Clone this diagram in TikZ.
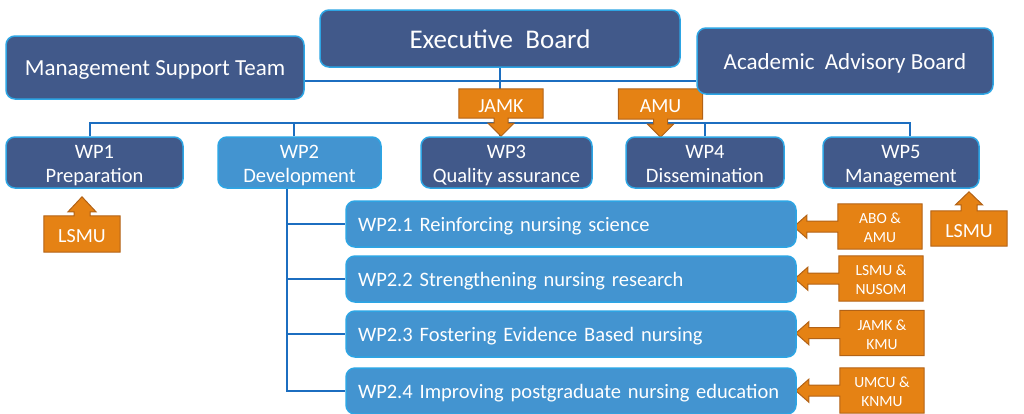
\documentclass[tikz,border=0pt]{standalone}
\usepackage{fontspec}
\setmainfont{Carlito}
\usetikzlibrary{backgrounds}

\definecolor{boarddark}{RGB}{65,89,138}
\definecolor{boardlight}{RGB}{67,148,208}
\definecolor{boxedge}{RGB}{45,165,228}
\definecolor{linkblue}{RGB}{28,110,192}
\definecolor{tagfill}{RGB}{229,130,20}
\definecolor{tagedge}{RGB}{178,98,22}

\tikzset{
    board/.style={draw=boxedge, line width=1.5pt, fill=boarddark, rounded corners=9pt,
	text=white, align=center, inner sep=0pt},
    topboard/.style={board, text height=17pt, text depth=0.5pt},
    wpbox/.style={board, minimum height=51pt, text height=45pt, text depth=5pt,
	font=\fontsize{20.5}{24}\selectfont},
    subwp/.style={board, fill=boardlight, minimum height=46pt, text width=426pt,
	align=left, inner xsep=12pt, inner ysep=0pt, text height=19pt, text depth=4pt,
	font=\fontsize{20.5}{24}\selectfont},
    tagbox/.style={text=white, align=center, inner sep=0pt, minimum width=84pt,
	text height=17pt, text depth=0pt, font=\fontsize{20}{24}\selectfont},
    partner/.style={text=white, align=center, inner sep=0pt, minimum width=84pt,
	minimum height=45pt, text height=38pt, text depth=6pt,
	font=\fontsize{15.5}{19}\selectfont},
    callout/.style={draw=tagedge, fill=tagfill, line width=1pt, line join=miter},
    link/.style={draw=linkblue, line width=2pt},
}

\begin{document}
\begin{tikzpicture}[x=1pt, y=-1pt]
    \useasboundingbox (0, 0) rectangle (1024, 413);

    \node [topboard, minimum width=360pt, minimum height=57pt, text height=21pt,
	font=\fontsize{27}{32}\selectfont] (exec) at (500, 38.5) {Executive\ \ Board};
    \node [topboard, minimum width=298pt, minimum height=63pt, font=\fontsize{23}{27}\selectfont]
	(mst) at (155, 67.5) {Management Support Team};
    \node [topboard, minimum width=296pt, minimum height=66pt, font=\fontsize{23}{27}\selectfont]
	(aab) at (845, 61) {Academic\ \ Advisory Board};

    \node [wpbox, minimum width=177pt] (wp1) at (94.5, 162.5) {WP1\\Preparation};
    \node [wpbox, minimum width=163pt, fill=boardlight] (wp2) at (299.5, 162.5) {WP2\\Development};
    \node [wpbox, minimum width=171pt] (wp3) at (506.5, 162.5) {WP3\\Quality assurance};
    \node [wpbox, minimum width=158pt] (wp4) at (705, 162.5) {WP4\\Dissemination};
    \node [wpbox, minimum width=156pt] (wp5) at (901, 162.5) {WP5\\Management};

    \node [subwp] (wp21) at (571, 224) {WP2.1 Reinforcing nursing science};
    \node [subwp] (wp22) at (571, 279) {WP2.2 Strengthening nursing research};
    \node [subwp] (wp23) at (571, 334) {WP2.3 Fostering Evidence Based nursing};
    \node [subwp] (wp24) at (571, 391) {WP2.4 Improving postgraduate nursing education};

    \node [tagbox, minimum height=29pt] (jamk) at (501, 103.5) {JAMK};
    \node [tagbox, minimum height=30pt] (amu) at (660.5, 104) {AMU};
    \node [tagbox, minimum width=76pt, minimum height=36pt] (lsmu1) at (82, 234) {LSMU};
    \node [tagbox, minimum width=76pt, minimum height=35pt] (lsmu5) at (969, 228.5) {LSMU};

    \node [partner] (p21) at (880, 226.5) {ABO \&\\AMU};
    \node [partner] (p22) at (881, 278.5) {LSMU \&\\NUSOM};
    \node [partner] (p23) at (882, 333) {JAMK \&\\KMU};
    \node [partner] (p24) at (882, 390.5) {UMCU \&\\KNMU};

    \coordinate (bus) at (500, 123);
    \coordinate (stem) at ([xshift=-12.5pt]wp2.south);

    \begin{scope}[on background layer]
	\draw [link] (mst.east |- 0, 81) -- (aab.west |- 0, 81);
	\draw [link] (exec.south) -- (exec.south |- wp3.north);
	\draw [link] ([xshift=-4.5pt]wp1.north) |- (bus) -| ([xshift=9pt]wp5.north);
	\draw [link] ([xshift=-5.5pt]wp2.north) |- (bus);
	\draw [link] (wp4.north) |- (bus);
	\foreach \s in {wp21, wp22, wp23, wp24}
	    \draw [link] (stem) |- (\s.west);

	\foreach \t in {jamk, amu}
	    \draw [callout] (\t.north west) -- (\t.north east) -- (\t.south east)
		-- ([xshift=7pt]\t.south) -- ++(0, 5) -- ++(6, 0) -- ++(-13, 13)
		-- ++(-13, -13) -- ++(6, 0) -- ++(0, -5) -- (\t.south west) -- cycle;
	\draw [callout] (lsmu1.south west) -- (lsmu1.south east) -- (lsmu1.north east)
	    -- ([xshift=8pt]lsmu1.north) -- ++(0, -4) -- ++(6, 0) -- ++(-14, -15)
	    -- ++(-14, 15) -- ++(6, 0) -- ++(0, 4) -- (lsmu1.north west) -- cycle;
	\draw [callout] (lsmu5.south west) -- (lsmu5.south east) -- (lsmu5.north east)
	    -- ([xshift=8pt]lsmu5.north) -- ++(0, -6) -- ++(5.5, 0) -- ++(-13.5, -13)
	    -- ++(-13.5, 13) -- ++(5.5, 0) -- ++(0, 6) -- (lsmu5.north west) -- cycle;
	\foreach \p in {p21, p22, p23, p24}
	    \draw [callout] (\p.north west) -- (\p.north east) -- (\p.south east)
		-- (\p.south west) -- ++(0, -17) -- ++(-31, 0) -- ++(0, 6)
		-- ++(-13, -11.5) -- ++(13, -11.5) -- ++(0, 6) -- ++(31, 0) -- cycle;
    \end{scope}
\end{tikzpicture}
\end{document}
